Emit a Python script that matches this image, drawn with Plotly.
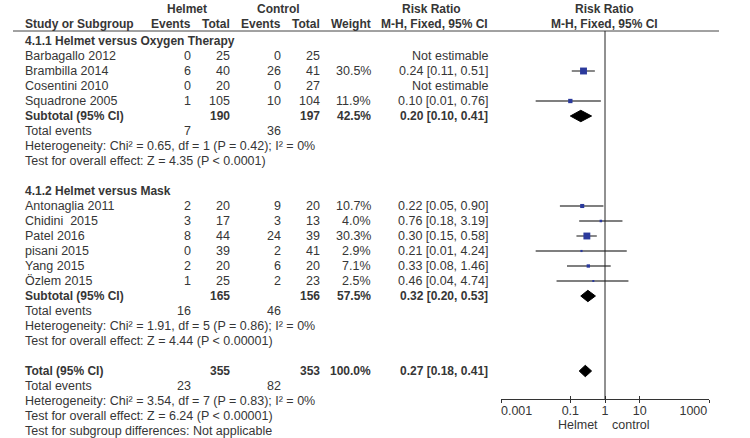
import math
import plotly.graph_objects as go

# ---------------- data ----------------
group_titles = ["4.1.1 Helmet versus Oxygen Therapy", "4.1.2 Helmet versus Mask"]

studies1 = ["Barbagallo 2012", "Brambilla 2014", "Cosentini 2010", "Squadrone 2005"]
h_events1 = [0, 6, 0, 1]
h_total1 = [25, 40, 20, 105]
c_events1 = [0, 26, 0, 10]
c_total1 = [25, 41, 27, 104]
weight1 = [None, 30.5, None, 11.9]
rr1 = [None, 0.24, None, 0.10]
lo1 = [None, 0.11, None, 0.01]
hi1 = [None, 0.51, None, 0.76]

studies2 = ["Antonaglia 2011", "Chidini\u00a0 2015", "Patel 2016", "pisani 2015", "Yang 2015", "Özlem 2015"]
h_events2 = [2, 3, 8, 0, 2, 1]
h_total2 = [20, 17, 44, 39, 20, 25]
c_events2 = [9, 3, 24, 2, 6, 2]
c_total2 = [20, 13, 39, 41, 20, 23]
weight2 = [10.7, 4.0, 30.3, 2.9, 7.1, 2.5]
rr2 = [0.22, 0.76, 0.30, 0.21, 0.33, 0.46]
lo2 = [0.05, 0.18, 0.15, 0.01, 0.08, 0.04]
hi2 = [0.90, 3.19, 0.58, 4.24, 1.46, 4.74]

sub_h_total = [190, 165]
sub_c_total = [197, 156]
sub_weight = [42.5, 57.5]
sub_rr = [0.20, 0.32]
sub_lo = [0.10, 0.20]
sub_hi = [0.41, 0.53]
sub_h_events = [7, 16]
sub_c_events = [36, 46]
sub_het = ["Heterogeneity: Chi² = 0.65, df = 1 (P = 0.42); I² = 0%",
           "Heterogeneity: Chi² = 1.91, df = 5 (P = 0.86); I² = 0%"]
sub_test = ["Test for overall effect: Z = 4.35 (P &lt; 0.0001)",
            "Test for overall effect: Z = 4.44 (P &lt; 0.00001)"]

total_h_total = 355
total_c_total = 353
total_weight = 100.0
total_rr = 0.27
total_lo = 0.18
total_hi = 0.41
total_h_events = 23
total_c_events = 82
total_het = "Heterogeneity: Chi² = 3.54, df = 7 (P = 0.83); I² = 0%"
total_test = "Test for overall effect: Z = 6.24 (P &lt; 0.00001)"
subgroup_diff = "Test for subgroup differences: Not applicable"

tick_vals = [0.001, 0.1, 1, 10, 1000]
tick_text = ["0.001", "0.1", "1", "10", "1000"]
favours = ["Helmet", "control"]

groups = [
    (studies1, h_events1, h_total1, c_events1, c_total1, weight1, rr1, lo1, hi1),
    (studies2, h_events2, h_total2, c_events2, c_total2, weight2, rr2, lo2, hi2),
]

# ---------------- layout constants ----------------
W, H = 750, 438
ROW0, ROWH = 41, 15
FONT = "Liberation Sans, Arial, sans-serif"
FS = 12.5
FSB = 12
TXT = "#363636"
X_NAME, X_HEV, X_HTOT, X_CEV, X_CTOT, X_W, X_RR = 23, 193, 232, 283, 322, 373, 490
AX_Y = 399
PLOT_L, PLOT_R = 501, 709
BLUE = "#2b3a9c"
CI_COL = "#555555"
NB = "\u00a0"

annotations = []
shapes = []
fig = go.Figure()


def ann(xpx, row, text, anchor="left", bold=False):
    t = f"<b>{text}</b>" if bold else text
    annotations.append(dict(x=xpx / W, xref="paper", y=row, yref="y", text=t,
                            xanchor=anchor, yanchor="middle", showarrow=False,
                            font=dict(family=FONT, size=FSB if bold else FS, color=TXT)))


def fmt_rr(r, l, h):
    return f"{r:.2f} [{l:.2f}, {h:.2f}]"


def diamond(row, r, l, h):
    hh = 0.38
    fig.add_trace(go.Scatter(x=[l, r, h, r, l], y=[row, row - hh, row, row + hh, row],
                             mode="lines", fill="toself", fillcolor="black",
                             line=dict(color="black", width=1), hoverinfo="skip",
                             showlegend=False))


row = 0
for gi, g in enumerate(groups):
    names, hev, htot, cev, ctot, wts, rrs, los, his = g
    ann(X_NAME, row, group_titles[gi], bold=True)
    row += 1
    for i in range(len(names)):
        ann(X_NAME, row, names[i])
        ann(X_HEV, row, str(hev[i]), "right")
        ann(X_HTOT, row, str(htot[i]), "right")
        ann(X_CEV, row, str(cev[i]), "right")
        ann(X_CTOT, row, str(ctot[i]), "right")
        if rrs[i] is None:
            ann(X_RR, row, "Not estimable", "right")
        else:
            ann(X_W, row, f"{wts[i]:.1f}%", "right")
            ann(X_RR, row, fmt_rr(rrs[i], los[i], his[i]), "right")
            fig.add_trace(go.Scatter(x=[los[i], his[i]], y=[row, row], mode="lines",
                                     line=dict(color=CI_COL, width=1.4),
                                     hoverinfo="skip", showlegend=False))
            fig.add_trace(go.Scatter(x=[rrs[i]], y=[row], mode="markers",
                                     marker=dict(symbol="square", color=BLUE,
                                                 size=max(2.0, 1.25 * math.sqrt(wts[i])),
                                                 line=dict(width=0)),
                                     hoverinfo="skip", showlegend=False))
        row += 1
    ann(X_NAME, row, "Subtotal (95% CI)", bold=True)
    ann(X_HTOT, row, str(sub_h_total[gi]), "right", bold=True)
    ann(X_CTOT, row, str(sub_c_total[gi]), "right", bold=True)
    ann(X_W, row, f"{sub_weight[gi]:.1f}%", "right", bold=True)
    ann(X_RR, row, fmt_rr(sub_rr[gi], sub_lo[gi], sub_hi[gi]), "right", bold=True)
    diamond(row, sub_rr[gi], sub_lo[gi], sub_hi[gi])
    row += 1
    ann(X_NAME, row, "Total events")
    ann(X_HEV, row, str(sub_h_events[gi]), "right")
    ann(X_CEV, row, str(sub_c_events[gi]), "right")
    row += 1
    ann(X_NAME, row, sub_het[gi])
    row += 1
    ann(X_NAME, row, sub_test[gi])
    row += 2

ann(X_NAME, row, "Total (95% CI)", bold=True)
ann(X_HTOT, row, str(total_h_total), "right", bold=True)
ann(X_CTOT, row, str(total_c_total), "right", bold=True)
ann(X_W, row, f"{total_weight:.1f}%", "right", bold=True)
ann(X_RR, row, fmt_rr(total_rr, total_lo, total_hi), "right", bold=True)
diamond(row, total_rr, total_lo, total_hi)
row += 1
ann(X_NAME, row, "Total events")
ann(X_HEV, row, str(total_h_events), "right")
ann(X_CEV, row, str(total_c_events), "right")
row += 1
ann(X_NAME, row, total_het)
row += 1
ann(X_NAME, row, total_test)
row += 1
ann(X_NAME, row, subgroup_diff)


def hdr(xpx, ypx, text, anchor):
    annotations.append(dict(x=xpx / W, xref="paper", y=1 - ypx / H, yref="paper",
                            text=f"<b>{text}</b>", xanchor=anchor, yanchor="middle",
                            showarrow=False, font=dict(family=FONT, size=FSB, color=TXT)))


hdr(187, 9, "Helmet", "center")
hdr(278, 9, "Control", "center")
hdr(432, 9, "Risk Ratio", "center")
hdr(604, 9, "Risk Ratio", "center")
hdr(X_NAME, 24, "Study or Subgroup", "left")
hdr(X_HEV, 24, "Events", "right")
hdr(X_HTOT, 24, "Total", "right")
hdr(X_CEV, 24, "Events", "right")
hdr(X_CTOT, 24, "Total", "right")
hdr(X_W, 24, "Weight", "right")
hdr(X_RR, 24, "M-H, Fixed, 95% CI", "right")
hdr(604, 24, "M-H, Fixed, 95% CI", "center")

for txt, xpx, anc in [(favours[0], 600, "right"), (favours[1], 610, "left")]:
    annotations.append(dict(x=xpx / W, xref="paper", y=1 - 425 / H, yref="paper",
                            text=txt, xanchor=anc, yanchor="middle", showarrow=False,
                            font=dict(family=FONT, size=FS, color=TXT)))

shapes.append(dict(type="line", xref="paper", yref="paper", x0=13 / W, x1=719 / W,
                   y0=1 - 31 / H, y1=1 - 31 / H, line=dict(color="#444444", width=1)))
shapes.append(dict(type="line", xref="x", yref="paper", x0=1, x1=1,
                   y0=1 - AX_Y / H, y1=1 - 31 / H, line=dict(color="#222222", width=1)))

fig.add_trace(go.Scatter(x=[1], y=[0], xaxis="x2", mode="markers",
                         marker=dict(opacity=0), hoverinfo="skip", showlegend=False))

# edge tick labels sit inside the axis ends (as in RevMan)
tick_text_disp = list(tick_text)
tick_text_disp[0] = NB * 9 + tick_text[0]
tick_text_disp[-1] = tick_text[-1] + NB * 9

axpos = 1 - AX_Y / H
fig.update_layout(
    width=W, height=H, margin=dict(l=0, r=0, t=0, b=0, autoexpand=False),
    paper_bgcolor="white", plot_bgcolor="white",
    xaxis=dict(type="log", range=[-3, 3], domain=[PLOT_L / W, PLOT_R / W],
               anchor="free", position=axpos, showgrid=False, zeroline=False,
               showline=True, linecolor="#333333", linewidth=1, automargin=False,
               tickvals=tick_vals, ticktext=tick_text_disp, ticks="outside", ticklen=3,
               ticklabelstandoff=-3,
               tickcolor="#333333", tickfont=dict(family=FONT, size=FS, color=TXT)),
    xaxis2=dict(type="log", range=[-3, 3], overlaying="x", anchor="free",
                position=axpos, showgrid=False, zeroline=False, showline=False,
                tickvals=tick_vals, ticks="inside", ticklen=3, tickcolor="#333333",
                showticklabels=False),
    yaxis=dict(range=[(H - ROW0) / ROWH, -ROW0 / ROWH], domain=[0, 1],
               visible=False, showgrid=False, zeroline=False),
    annotations=annotations, shapes=shapes,
    showlegend=False,
)

fig.write_html("out.html", config={"displayModeBar": False},
               post_script="document.body.style.margin='0';")
